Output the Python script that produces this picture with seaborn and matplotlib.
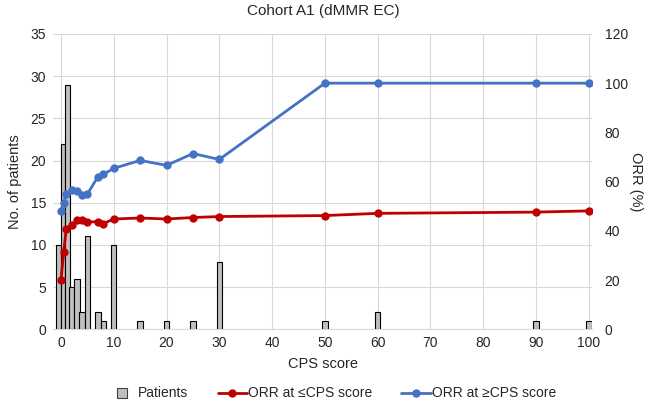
import matplotlib
matplotlib.use("Agg")
import matplotlib.pyplot as plt
import seaborn as sns
import pandas as pd
from matplotlib.lines import Line2D

# ---- data ----
cps = [0, 0.5, 1, 2, 3, 4, 5, 7, 8, 10, 15, 20, 25, 30, 50, 60, 90, 100]
patients = [10, 22, 29, 5, 6, 2, 11, 2, 1, 10, 1, 1, 1, 8, 1, 2, 1, 1]
# displayed bar centres (the first three bins are squeezed side by side in the original)
bar_pos = [-0.47, 0.41, 1.23, 2.05, 3, 4, 5, 7, 8, 10, 15, 20, 25, 30, 50, 60, 90, 100]
orr_le = [20, 31.2, 40.8, 42.2, 44.3, 44.3, 43.6, 43.7, 42.9, 44.8, 45.2, 44.8,
          45.4, 45.8, 46.2, 47.1, 47.6, 48.1]
orr_ge = [48.2, 51.4, 54.8, 56.5, 56.1, 54.5, 54.9, 62.0, 62.9, 65.4, 68.6, 66.6,
          71.4, 69.0, 100, 100, 100, 100]
x_ticks = list(range(0, 101, 10))
left_ticks = list(range(0, 36, 5))
right_ticks = list(range(0, 121, 20))

df = pd.DataFrame({"cps": cps, "patients": patients, "bar_pos": bar_pos,
                   "orr_le": orr_le, "orr_ge": orr_ge})

sns.set_style("white")
plt.rcParams["font.family"] = ["Liberation Sans", "DejaVu Sans"]

RED = "#C00000"
BLUE = "#4472C4"
GRID = "#D9D9D9"
TXT = "#262626"

fig = plt.figure(figsize=(6.47, 4.09), dpi=100)
ax = fig.add_axes([0.082, 0.195, 0.833, 0.722])

widths = [0.88 if c < 2 else 1.02 for c in cps]
ax.bar(df["bar_pos"], df["patients"], width=widths, color="#BFBFBF",
       edgecolor="black", linewidth=0.8, zorder=2)

ax.set_xlim(-1.5, 100.6)
ax.set_ylim(0, 35)
ax.set_xticks(x_ticks)
ax.set_yticks(left_ticks)
ax.grid(True, color=GRID, linewidth=0.8, zorder=0)
ax.set_axisbelow(True)
for s in ax.spines.values():
    s.set_visible(False)
ax.spines["bottom"].set_visible(True)
ax.spines["bottom"].set_color(GRID)
ax.tick_params(axis="both", length=0, labelsize=10, colors=TXT, pad=5)
ax.set_xlabel("CPS score", fontsize=10.5, color=TXT, labelpad=5)
ax.set_ylabel("No. of patients", fontsize=10.5, color=TXT, labelpad=6)

ax2 = ax.twinx()
sns.lineplot(data=df, x="cps", y="orr_le", ax=ax2, color=RED, linewidth=2,
             marker="o", markersize=6, markeredgewidth=0, zorder=4)
sns.lineplot(data=df, x="cps", y="orr_ge", ax=ax2, color=BLUE, linewidth=2,
             marker="o", markersize=6, markeredgewidth=0, zorder=4)
ax2.set_ylim(0, 120)
ax2.set_yticks(right_ticks)
for s in ax2.spines.values():
    s.set_visible(False)
ax2.tick_params(axis="y", length=0, labelsize=10, colors=TXT, pad=9)
ax2.set_ylabel("ORR (%)", fontsize=10.5, color=TXT, rotation=270, labelpad=11)
ax2.set_xlabel("")
ax2.set_xlim(-1.5, 100.6)

fig.text(0.5, 0.972, "Cohort A1 (dMMR EC)", ha="center", va="center",
         fontsize=11, color=TXT)

handles = [
    Line2D([0], [0], linestyle="none", marker="s", markersize=7.5,
           markerfacecolor="#BFBFBF", markeredgecolor="#404040", markeredgewidth=0.8),
    Line2D([0], [0], color=RED, linewidth=2, marker="o", markersize=5),
    Line2D([0], [0], color=BLUE, linewidth=2, marker="o", markersize=5),
]
labels = ["Patients", "ORR at \u2264CPS score", "ORR at \u2265CPS score"]
fig.legend(handles, labels, loc="center", bbox_to_anchor=(0.513, 0.038), ncol=3,
           frameon=False, fontsize=10, handlelength=2.1, columnspacing=2.1,
           handletextpad=0.1, labelcolor=TXT)

fig.savefig("out.png", dpi=100)
